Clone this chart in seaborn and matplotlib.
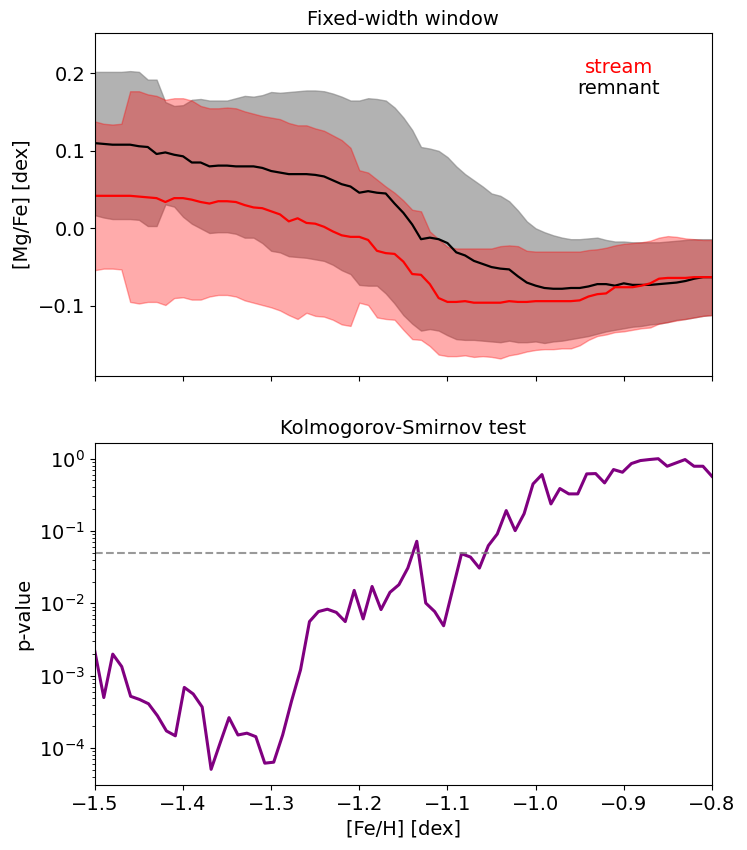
import numpy as np
import matplotlib
matplotlib.use("Agg")
import matplotlib.pyplot as plt
import seaborn as sns

plt.rcParams['font.size'] = 14

# === top panel: running median and spread of [Mg/Fe] (0.01 dex window steps) ===
feh_top = np.round(np.arange(-1.50, -0.795, 0.01), 2)

remnant_med = [0.110, 0.109, 0.108, 0.108, 0.108, 0.106, 0.105, 0.096, 0.098, 0.095,
               0.093, 0.085, 0.085, 0.080, 0.081, 0.081, 0.080, 0.080, 0.080, 0.078,
               0.074, 0.072, 0.070, 0.070, 0.070, 0.069, 0.067, 0.062, 0.057, 0.054,
               0.046, 0.048, 0.046, 0.045, 0.032, 0.020, 0.005, -0.014, -0.012, -0.014,
               -0.019, -0.031, -0.035, -0.042, -0.046, -0.050, -0.052, -0.053, -0.062, -0.070,
               -0.074, -0.077, -0.078, -0.078, -0.077, -0.077, -0.075, -0.072, -0.072, -0.074,
               -0.071, -0.073, -0.073, -0.073, -0.072, -0.071, -0.070, -0.068, -0.065, -0.063,
               -0.063]
remnant_hi = [0.202, 0.202, 0.202, 0.202, 0.203, 0.202, 0.192, 0.192, 0.163, 0.158,
              0.159, 0.166, 0.167, 0.165, 0.165, 0.165, 0.168, 0.171, 0.170, 0.172,
              0.176, 0.175, 0.176, 0.177, 0.178, 0.178, 0.177, 0.174, 0.170, 0.165,
              0.165, 0.168, 0.167, 0.165, 0.156, 0.143, 0.127, 0.105, 0.103, 0.100,
              0.092, 0.080, 0.070, 0.062, 0.054, 0.045, 0.042, 0.035, 0.023, 0.009,
              0.000, -0.005, -0.009, -0.012, -0.014, -0.014, -0.013, -0.012, -0.015, -0.017,
              -0.017, -0.018, -0.018, -0.018, -0.018, -0.017, -0.016, -0.015, -0.014, -0.014,
              -0.014]
remnant_lo = [0.017, 0.014, 0.012, 0.012, 0.012, 0.011, 0.003, 0.003, 0.031, 0.028,
              0.015, 0.006, 0.000, -0.006, -0.005, -0.005, -0.007, -0.012, -0.012, -0.019,
              -0.029, -0.031, -0.036, -0.037, -0.038, -0.040, -0.042, -0.047, -0.054, -0.059,
              -0.073, -0.074, -0.074, -0.084, -0.097, -0.112, -0.123, -0.132, -0.130, -0.132,
              -0.138, -0.143, -0.144, -0.144, -0.145, -0.146, -0.147, -0.145, -0.147, -0.147,
              -0.146, -0.148, -0.146, -0.145, -0.143, -0.141, -0.139, -0.136, -0.133, -0.131,
              -0.129, -0.127, -0.126, -0.124, -0.123, -0.121, -0.118, -0.117, -0.115, -0.113,
              -0.112]

stream_med = [0.042, 0.042, 0.042, 0.042, 0.042, 0.041, 0.040, 0.039, 0.034, 0.039,
              0.039, 0.037, 0.034, 0.032, 0.035, 0.035, 0.034, 0.030, 0.027, 0.026,
              0.022, 0.018, 0.009, 0.013, 0.007, 0.006, 0.002, -0.004, -0.009, -0.011,
              -0.011, -0.015, -0.029, -0.032, -0.033, -0.043, -0.059, -0.060, -0.072, -0.090,
              -0.095, -0.095, -0.094, -0.096, -0.096, -0.096, -0.096, -0.094, -0.095, -0.095,
              -0.094, -0.094, -0.094, -0.094, -0.094, -0.093, -0.088, -0.085, -0.084, -0.076,
              -0.076, -0.076, -0.074, -0.071, -0.065, -0.064, -0.064, -0.064, -0.063, -0.063,
              -0.063]
stream_hi = [0.138, 0.135, 0.134, 0.135, 0.177, 0.177, 0.173, 0.171, 0.166, 0.168,
             0.168, 0.165, 0.158, 0.155, 0.155, 0.156, 0.155, 0.151, 0.148, 0.145,
             0.143, 0.141, 0.136, 0.133, 0.133, 0.129, 0.126, 0.120, 0.114, 0.104,
             0.075, 0.072, 0.063, 0.054, 0.046, 0.036, 0.024, 0.022, -0.004, -0.014,
             -0.024, -0.026, -0.026, -0.026, -0.026, -0.026, -0.023, -0.022, -0.023, -0.029,
             -0.030, -0.030, -0.030, -0.030, -0.030, -0.030, -0.028, -0.027, -0.025, -0.022,
             -0.020, -0.019, -0.018, -0.016, -0.012, -0.010, -0.011, -0.013, -0.014, -0.015,
             -0.015]
stream_lo = [-0.054, -0.052, -0.052, -0.053, -0.095, -0.097, -0.095, -0.095, -0.099, -0.090,
             -0.089, -0.092, -0.092, -0.088, -0.086, -0.086, -0.088, -0.093, -0.096, -0.099,
             -0.102, -0.106, -0.112, -0.117, -0.109, -0.113, -0.114, -0.118, -0.124, -0.126,
             -0.096, -0.099, -0.115, -0.117, -0.118, -0.131, -0.143, -0.144, -0.152, -0.163,
             -0.165, -0.165, -0.164, -0.166, -0.165, -0.166, -0.168, -0.164, -0.162, -0.159,
             -0.157, -0.156, -0.156, -0.155, -0.155, -0.151, -0.144, -0.139, -0.137, -0.134,
             -0.133, -0.131, -0.129, -0.128, -0.123, -0.121, -0.119, -0.117, -0.115, -0.113,
             -0.112]

# === bottom panel: KS test p-value ===
feh_ks = np.linspace(-1.5, -0.8, 70)
p_value = [2.16e-3, 5.0e-4, 1.99e-3, 1.34e-3, 5.2e-4, 4.7e-4, 4.1e-4, 2.8e-4, 1.73e-4, 1.48e-4,
           6.9e-4, 5.6e-4, 3.7e-4, 5.1e-5, 1.17e-4, 2.64e-4, 1.52e-4, 1.61e-4, 1.44e-4, 6.2e-5,
           6.4e-5, 1.52e-4, 4.5e-4, 1.21e-3, 5.6e-3, 7.7e-3, 8.3e-3, 7.5e-3, 5.6e-3, 1.51e-2,
           6.1e-3, 1.71e-2, 8.2e-3, 1.42e-2, 1.81e-2, 3.08e-2, 7.2e-2, 1.01e-2, 7.7e-3, 4.9e-3,
           1.54e-2, 4.85e-2, 4.36e-2, 3.07e-2, 6.26e-2, 9.08e-2, 0.191, 0.101, 0.173, 0.446,
           0.601, 0.236, 0.385, 0.325, 0.325, 0.614, 0.620, 0.461, 0.705, 0.647,
           0.853, 0.938, 0.969, 0.995, 0.783, 0.871, 0.969, 0.783, 0.783, 0.570]
p_threshold = 0.05

fig, (ax1, ax2) = plt.subplots(2, 1, figsize=(7.47, 8.5), dpi=100, sharex=True)
fig.subplots_adjust(left=0.127, right=0.953, top=0.961, bottom=0.0765, hspace=0.196)

ax1.fill_between(feh_top, remnant_lo, remnant_hi, color='gray', alpha=0.6)
ax1.fill_between(feh_top, stream_lo, stream_hi, color='red', alpha=0.33)
sns.lineplot(x=feh_top, y=remnant_med, color='black', lw=1.6, ax=ax1)
sns.lineplot(x=feh_top, y=stream_med, color='red', lw=1.6, ax=ax1)
ax1.text(0.849, 0.9, 'stream', color='red', transform=ax1.transAxes, ha='center', va='center')
ax1.text(0.849, 0.837, 'remnant', color='black', transform=ax1.transAxes, ha='center', va='center')
ax1.set_ylim(-0.19, 0.252)
ax1.set_ylabel('[Mg/Fe] [dex]')
ax1.set_title('Fixed-width window', fontsize=14)

sns.lineplot(x=feh_ks, y=p_value, color='purple', lw=2.2, ax=ax2)
ax2.axhline(p_threshold, color='gray', ls='--', lw=1.5, alpha=0.8)
ax2.set_yscale('log')
ax2.set_ylim(3.1e-5, 1.66)
ax2.set_xlim(-1.5, -0.8)
ax2.set_xlabel('[Fe/H] [dex]')
ax2.set_ylabel('p-value')
ax2.set_title('Kolmogorov-Smirnov test', fontsize=14)

plt.savefig('out.png', dpi=100)
